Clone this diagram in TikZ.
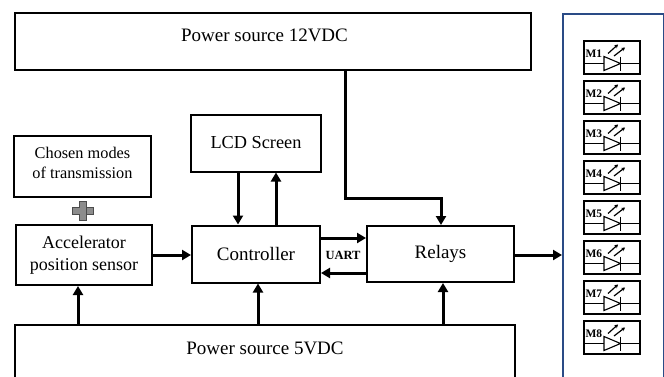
\documentclass[tikz,border=0pt]{standalone}
\usepackage{fontspec}
\setmainfont{Liberation Serif}
\usetikzlibrary{positioning,calc,arrows.meta}
\definecolor{panelblue}{HTML}{2A4B86}
\definecolor{plusgray}{HTML}{8C8C8C}
\begin{document}
\begin{tikzpicture}[%
    x=1pt, y=-1pt,
    >={Triangle[length=9pt,width=10pt]},
    node distance=10pt
    ]

\tikzset{
    block/.style={draw, line width=2pt, align=center, font={\fontsize{19}{22}\selectfont}, inner sep=0pt},
    ledbox/.style={draw, line width=1.4pt, minimum width=56pt, minimum height=33pt, inner sep=0pt},
    ledlabel/.style={font={\fontsize{11.5}{12}\selectfont\bfseries}, inner sep=0pt},
    fforw/.style={->, line width=3pt},
    wire/.style={line width=1.1pt},
    ray/.style={-{Stealth[length=3.5pt,width=4pt]}, line width=1.2pt}
}

\useasboundingbox (0,0) rectangle (664,376);

%% Top row
\node [block, minimum width=516pt, minimum height=57pt] (ptwelve) at (273,41.5) {};
\node [font={\fontsize{19}{22}\selectfont}] (ptwelvetext) at (264.5,35) {Power source 12VDC};

%% Left column
\node [block, minimum width=137pt, minimum height=61pt] (modes) at (82.5,166.5) {};
\node [font={\fontsize{16.3}{20}\selectfont}, align=center, inner sep=0pt] (modestext) at (82.5,163) {Chosen modes\\of transmission};
\node [block, font={\fontsize{18}{22}\selectfont}, minimum width=136pt, minimum height=60pt] (accel) at (84,255) {Accelerator\\position sensor};
\node [draw=black!70, line width=0.6pt, fill=plusgray, minimum width=21pt, minimum height=7pt, inner sep=0pt] (plush) at (82.5,211) {};
\node [fill=plusgray, minimum width=7pt, minimum height=19pt, inner sep=0pt, draw=black!70, line width=0.6pt] (plusv) at (82.5,211) {};
\node [fill=plusgray, minimum width=6.4pt, minimum height=6.4pt, inner sep=0pt] (plusc) at (82.5,211) {};

%% Middle row
\node [block, minimum width=128pt, minimum height=57pt] (ctrl) at (256,254) {Controller};
\node [block, font={\fontsize{18.3}{22}\selectfont}, minimum width=130pt, minimum height=57pt, above=52pt of ctrl] (lcd) {LCD Screen};
\node [block, minimum width=147pt, minimum height=56pt] (relays) at (440.5,254) {Relays};
\node [font={\fontsize{12.5}{14}\selectfont\bfseries}, inner sep=0pt] (uart) at (343,255) {UART};

%% Bottom box, runs off the page
\node [font={\fontsize{19}{22}\selectfont}, minimum width=500pt, minimum height=46pt, inner sep=0pt] (pfive) at (265,348) {Power source 5VDC};
\coordinate (pagebot) at (0,385);
\draw [line width=2pt] (pfive.north west |- pagebot) -- (pfive.north west) -- (pfive.north east) -- (pfive.north east |- pagebot);

%% Lamp panel
\node [draw=panelblue, line width=1.7pt, minimum width=101pt, minimum height=400pt, inner sep=0pt, anchor=north west] (panel) at (562,13) {};
\foreach \i in {1,...,8} {
    \node [ledbox] (m\i) at (612,{57.5+40*(\i-1)}) {};
    \node [ledlabel, anchor=west] (ml\i) at ($(m\i.west)+(2,-4)$) {M\i};
    \coordinate (tip\i) at ($(m\i)+(8.5,6)$);
    \coordinate (base\i) at ($(m\i)+(-8,6)$);
    \draw [wire] (m\i.west |- base\i) -- (base\i);
    \draw [wire] (tip\i) -- (m\i.east |- tip\i);
    \draw [wire] ($(base\i)+(0,-7)$) -- ($(base\i)+(0,7)$) -- (tip\i) -- cycle;
    \draw [line width=1.5pt] ($(tip\i)+(0,-7)$) -- ($(tip\i)+(0,7)$);
    \draw [ray] ($(m\i)+(-4,-4)$) -- ($(m\i)+(6,-13)$);
    \draw [ray] ($(m\i)+(2,-1.5)$) -- ($(m\i)+(13,-10)$);
}

%% Arrows
\coordinate (drop) at (345,198);
\draw [fforw] (ptwelve.south -| drop) -- (drop) -| ($(relays.north)+(0.5,0)$);
\draw [fforw] ($(lcd.south)+(-18,0)$) -- ($(ctrl.north)+(-18,0)$);
\draw [fforw] ($(ctrl.north)+(20,0)$) -- ($(lcd.south)+(20,0)$);
\draw [fforw] (accel.east) -- (ctrl.west |- accel.east);
\draw [fforw] ($(ctrl.east)+(0,-16)$) -- ($(relays.west)+(0,-16)$);
\draw [fforw] ($(relays.west)+(0,19)$) -- ($(ctrl.east)+(0,19)$);
\draw [fforw] ($(relays.east)+(0,1)$) -- ($(panel.west |- relays.east)+(0,1)$);
\draw [fforw] (pfive.north -| accel.south) ++(-6,0) -- ($(accel.south)+(-6,0)$);
\draw [fforw] (pfive.north -| ctrl.south) ++(2,0) -- ($(ctrl.south)+(2,0)$);
\draw [fforw] ($(pfive.north -| relays.south)+(2.5,0)$) -- ($(relays.south)+(2.5,0)$);
\end{tikzpicture}
\end{document}
